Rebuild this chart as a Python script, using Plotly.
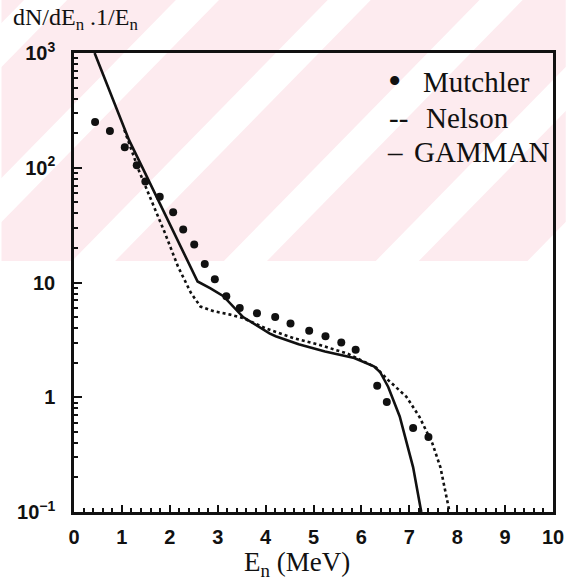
import plotly.graph_objects as go

# ---------------- data ----------------
gamman_E = [0.43, 1.15, 1.49, 2.30, 2.58, 2.85, 3.12, 3.53, 4.08, 4.21, 4.69, 5.24,
            5.85, 6.26, 6.39, 6.56, 6.80, 7.08, 7.25]
gamman_y = [1000, 174, 89, 17.8, 10.2, 8.9, 7.6, 5.0, 3.6, 3.4, 2.9, 2.5,
            2.2, 1.86, 1.66, 1.23, 0.68, 0.245, 0.10]

nelson_E = [1.05, 1.35, 1.55, 1.90, 2.17, 2.44, 2.64, 2.92, 3.26, 3.53, 4.00, 4.62,
            5.10, 5.71, 6.30, 6.56, 6.94, 7.21, 7.48, 7.65, 7.84]
nelson_y = [214, 95.5, 60.3, 26.9, 13.8, 8.13, 6.17, 5.62, 5.25, 4.90, 3.98, 3.24,
            2.88, 2.40, 1.82, 1.41, 1.01, 0.676, 0.398, 0.245, 0.10]

mutchler_E = [0.44, 0.75, 1.06, 1.31, 1.49, 1.79, 2.07, 2.28, 2.51, 2.73, 2.94, 3.18,
              3.46, 3.82, 4.20, 4.52, 4.91, 5.25, 5.58, 5.88, 6.33, 6.53, 7.08, 7.40]
mutchler_y = [251, 209, 151, 105, 76, 56, 41, 29, 21.4, 14.5, 10.7, 7.6,
              6.0, 5.4, 5.0, 4.4, 3.8, 3.4, 3.0, 2.6, 1.26, 0.91, 0.54, 0.45]

x_ticks = list(range(0, 11))
y_tickvals = [0.1, 1, 10, 100, 1000]
y_ticktext = ["10<sup>\u22121</sup>", "1", "10", "10<sup>2</sup>", "10<sup>3</sup>"]

legend_names = ["Mutchler", "Nelson", "GAMMAN"]
y_title = "dN/dE<sub>n</sub> .1/E<sub>n</sub>"
x_title = "E<sub>n</sub> (MeV)"

# ---------------- layout geometry / styling ----------------
W, H = 576, 580
L, R, T, B = 74, 13, 53, 68
PW, PH = W - L - R, H - T - B


def pxx(p):
    return (p - L) / PW


def pxy(p):
    return (H - B - p) / PH


INK = "#111111"
PINK = "#fdebef"
SERIF = "Liberation Serif"
SANS = "Liberation Sans"

fig = go.Figure()

fig.add_trace(go.Scatter(x=gamman_E, y=gamman_y, mode="lines", name=legend_names[2],
                         line=dict(color=INK, width=2.6), showlegend=False))
fig.add_trace(go.Scatter(x=nelson_E, y=nelson_y, mode="lines", name=legend_names[1],
                         line=dict(color=INK, width=2.6, dash="dot"), showlegend=False))
fig.add_trace(go.Scatter(x=mutchler_E, y=mutchler_y, mode="markers", name=legend_names[0],
                         marker=dict(color=INK, size=8), showlegend=False))

# pink watermark band with diagonal white stripes
band_top = 261
shapes = [dict(type="rect", xref="paper", yref="paper",
               x0=pxx(0), x1=pxx(W), y0=pxy(band_top), y1=pxy(0),
               fillcolor=PINK, line=dict(width=0), layer="below")]
for c in [45, 200, 355, 510, 665, 820]:
    c1, c2 = c - 22, c + 22
    path = "M {:.4f},{:.4f} L {:.4f},{:.4f} L {:.4f},{:.4f} L {:.4f},{:.4f} Z".format(
        pxx(c1), pxy(0), pxx(c2), pxy(0),
        pxx(c2 - band_top), pxy(band_top), pxx(c1 - band_top), pxy(band_top))
    shapes.append(dict(type="path", xref="paper", yref="paper", path=path,
                       fillcolor="white", line=dict(width=0), layer="below"))


def note(text, x, y, size, family=SERIF, xanchor="left"):
    return dict(text=text, x=pxx(x), y=pxy(y), xref="paper", yref="paper",
                xanchor=xanchor, yanchor="middle", showarrow=False,
                font=dict(family=family, size=size, color=INK))


annotations = [
    note(y_title, 10, 19, 24),
    note(x_title, 302, 564, 27, xanchor="center"),
    note("\u2022", 401, 81, 38, xanchor="center"),
    note(legend_names[0], 428, 82, 29),
    note("--", 394, 118, 29),
    note(legend_names[1], 431, 118, 29),
    note("\u2013", 392, 152, 29),
    note(legend_names[2], 419, 152, 29),
]

minor_y = [m * 10 ** e for e in range(-1, 3) for m in range(2, 10)]

fig.update_layout(
    width=W, height=H,
    margin=dict(l=L, r=R, t=T, b=B),
    paper_bgcolor="white",
    plot_bgcolor="rgba(0,0,0,0)",
    shapes=shapes,
    annotations=annotations,
    xaxis=dict(range=[0, 10], tickmode="array", tickvals=x_ticks,
               ticks="inside", ticklen=7, tickwidth=2, tickcolor=INK,
               minor=dict(ticks="inside", ticklen=4, tickwidth=1.5, tickcolor=INK,
                          tickmode="linear", tick0=0, dtick=0.2),
               showline=True, linewidth=2.5, linecolor=INK, mirror=True,
               showgrid=False, zeroline=False, ticklabelstandoff=5,
               tickfont=dict(family=SANS, size=20, color=INK, weight="bold")),
    yaxis=dict(type="log", range=[-1, 3], tickmode="array", tickvals=y_tickvals,
               ticktext=y_ticktext,
               ticks="inside", ticklen=8, tickwidth=2, tickcolor=INK,
               minor=dict(ticks="inside", ticklen=4, tickwidth=1.5, tickcolor=INK,
                          tickmode="array", tickvals=minor_y),
               showline=True, linewidth=2.5, linecolor=INK, mirror=True,
               showgrid=False, zeroline=False, ticklabelstandoff=12,
               tickfont=dict(family=SANS, size=20, color=INK, weight="bold")),
)

fig.write_html("out.html")
